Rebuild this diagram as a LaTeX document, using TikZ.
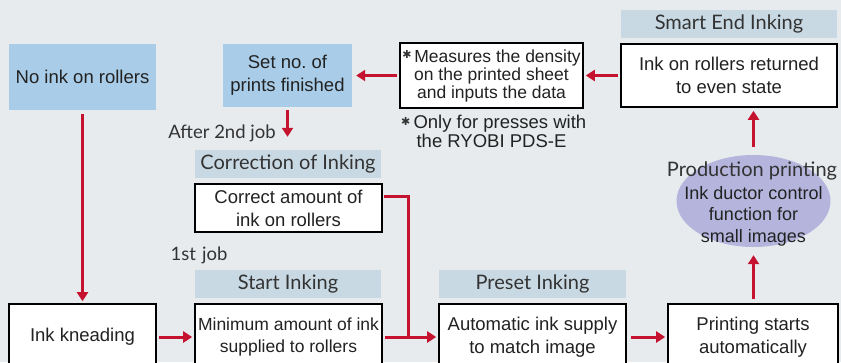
\documentclass[tikz,border=0pt]{standalone}
\usepackage{fontspec}
\setmainfont{Liberation Sans}
\newfontfamily\labelfont{Lato}
\newfontfamily\symfont{DejaVu Sans}
\usetikzlibrary{arrows.meta,shapes.geometric}
\definecolor{bg}{HTML}{E7EBEE}
\definecolor{boxblue}{HTML}{A9CDE8}
\definecolor{lblband}{HTML}{C9D9E3}
\definecolor{arrowred}{HTML}{C4122F}
\definecolor{ellfill}{HTML}{B4B4DD}
\definecolor{txt}{HTML}{222222}
\definecolor{lbltxt}{HTML}{333333}
\newcommand{\myast}{\raisebox{0.35ex}{\symfont\fontsize{11}{11}\selectfont\textcolor{lbltxt}{✱}}}
\tikzset{
  bluebox/.style={fill=boxblue, inner sep=0pt, align=center, text=txt, font=\fontsize{18.5}{23}\selectfont},
  whitebox/.style={fill=white, draw=black, line width=1.6pt, inner sep=0pt, align=center, text=txt, font=\fontsize{18.5}{23}\selectfont},
  band/.style={fill=lblband, inner sep=0pt, minimum height=28, text=lbltxt, font=\labelfont\fontsize{20}{22}\selectfont},
  plain/.style={inner sep=0pt, text=lbltxt, font=\labelfont\fontsize{18.5}{20}\selectfont},
  redarrow/.style={draw=arrowred, line width=3pt, -{Triangle[length=9pt,width=11pt]}},
  redline/.style={draw=arrowred, line width=3pt}
}
\begin{document}
\begin{tikzpicture}[x=1pt,y=-1pt]
\clip (0,0) rectangle (841,362);
\fill[bg] (0,0) rectangle (841,362);

% top row
\node[bluebox, minimum width=147, minimum height=66] (noink) at (82.5,77) {No ink on rollers};
\node[bluebox, minimum width=129, minimum height=63] (setno) at (287.5,75.5) {Set no.\ of\\prints finished};
\node[whitebox, minimum width=183, minimum height=65, font=\fontsize{17.5}{18}\selectfont] (measures) at (491.5,75.5)
  {\myast\,Measures the density\\on the printed sheet\\and inputs the data};
\node[band, minimum width=216] (smartlbl) at (729,24) {Smart End Inking};
\node[whitebox, minimum width=216, minimum height=63] (returned) at (729,75.5) {Ink on rollers returned\\to even state};
\node[inner sep=0pt, anchor=north west, align=left, text=txt, font=\fontsize{18.5}{19}\selectfont] (note) at (401,115)
  {\myast\,Only for presses with\\\phantom{\myast\,}\,the RYOBI PDS-E};

% middle
\node[plain] (after) at (222,133) {After 2nd job};
\node[band, minimum width=186] (corrlbl) at (288,164) {Correction of Inking};
\node[whitebox, minimum width=187, minimum height=48] (correct) at (288.5,208) {Correct amount of\\ink on rollers};
\node[plain] (first) at (199,255) {1st\,\,job};

% ellipse
\node[ellipse, fill=ellfill, minimum width=154, minimum height=92, inner sep=0pt] (ell) at (753.5,201) {};
\node[inner sep=0pt, align=center, text=txt, font=\fontsize{18}{21.5}\selectfont] (elltext) at (753.5,216)
  {Ink ductor control\\function for\\small images};
\node[plain, font=\labelfont\fontsize{20}{22}\selectfont] (prod) at (752,171) {Production printing};

% bottom row
\node[band, minimum width=186] (startlbl) at (288,284) {Start Inking};
\node[band, minimum width=187] (presetlbl) at (532.5,284) {Preset Inking};
\node[whitebox, minimum width=147, minimum height=66] (knead) at (82.5,337) {Ink kneading};
\node[whitebox, minimum width=187, minimum height=66, font=\fontsize{17.5}{22}\selectfont] (minimum) at (288.5,337) {Minimum amount of ink\\supplied to rollers};
\node[whitebox, minimum width=187, minimum height=66] (auto) at (532.5,337) {Automatic ink supply\\to match image};
\node[whitebox, minimum width=170, minimum height=66] (printing) at (753,337) {Printing starts\\automatically};

\coordinate (j) at (408,337);

% connectors
\draw[redarrow, shorten <=4pt, shorten >=2pt] (noink.south) -- (knead.north);
\draw[redarrow, shorten <=2pt, shorten >=4pt] (measures.west) -- (setno.east);
\draw[redarrow, shorten <=2pt, shorten >=2pt] (returned.west) -- (measures.east);
\draw[redarrow, shorten <=3pt, shorten >=13pt] (setno.south) -- (setno.south |- corrlbl.north);
\draw[redline] ([xshift=1pt,yshift=12pt]correct.east) -| (j);
\draw[redarrow, shorten <=2pt, shorten >=2pt] (knead.east) -- (minimum.west);
\draw[redarrow, shorten <=2pt, shorten >=2pt] (minimum.east) -- (auto.west);
\draw[redarrow, shorten <=4pt, shorten >=2pt] (auto.east) -- (printing.west);
\draw[redarrow, shorten <=4pt, shorten >=8pt] (printing.north -| ell.south) -- (ell.south);
\draw[redarrow, shorten <=8pt, shorten >=3pt] (ell.north) -- (ell.north |- returned.south);
\end{tikzpicture}
\end{document}
